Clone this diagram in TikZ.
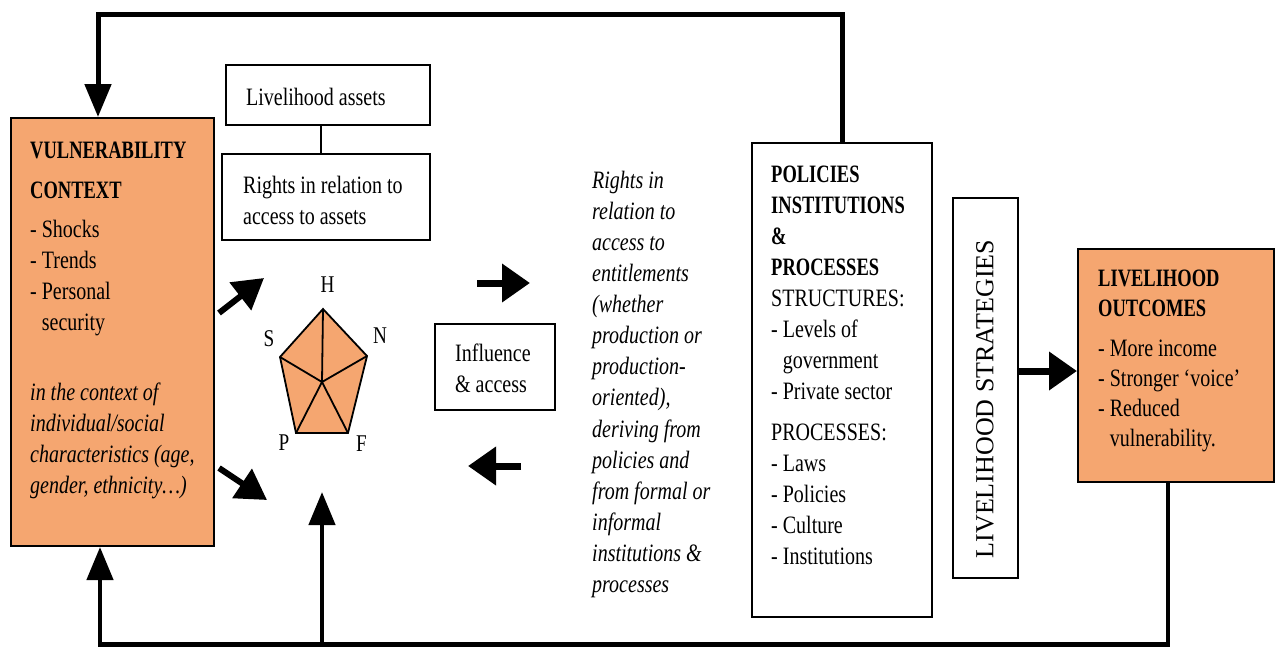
\documentclass[tikz,border=0pt]{standalone}
\usepackage{fontspec}
\setmainfont{Liberation Serif}[FakeStretch=0.8, BoldFeatures={FakeStretch=0.74}]
\newfontfamily\uprightserif{Liberation Serif}
\usetikzlibrary{arrows.meta,calc}
\definecolor{assetorange}{RGB}{245,166,112}
\begin{document}
\begin{tikzpicture}[x=1pt,y=-1pt,
  box/.style={draw=black, line width=2pt, inner sep=0pt, fill=white},
  obox/.style={box, fill=assetorange},
  txt/.style={inner sep=0pt, anchor=north west, align=left,
              font=\fontsize{25}{31}\selectfont},
  lbl/.style={inner sep=0pt, font=\fontsize{24}{28}\selectfont},
  feed/.style={line width=5pt, -{Triangle[length=33pt,width=26pt]}},
  feedup/.style={line width=4.5pt, -{Triangle[length=33pt,width=26pt]}},
  fat/.style={line width=7pt, -{Triangle[length=28pt,width=37pt]}},
  slant/.style={line width=6pt, -{Triangle[length=30pt,width=34pt]}},
 ]
\useasboundingbox (0,0) rectangle (1276,646);

% ---- boxes ----
\node[obox, minimum width=203pt, minimum height=428pt] (vc) at (112.5,332) {};
\node[box, minimum width=204pt, minimum height=60pt] (la) at (328,95) {};
\node[box, minimum width=208pt, minimum height=86pt] (ra) at (326,197) {};
\node[box, minimum width=120pt, minimum height=86pt] (inf) at (495,367) {};
\node[box, minimum width=180pt, minimum height=474pt] (pol) at (842,380) {};
\node[box, minimum width=65pt, minimum height=380pt] (ls) at (985.5,388) {};
\node[obox, minimum width=196pt, minimum height=233pt] (lo) at (1176,365.5) {};

% ---- box texts (anchored 21.7pt above the first baseline) ----
\node[txt] (vc-text) at (30,136.3) {\strut\textbf{VULNERABILITY}\\[9pt]
  \textbf{CONTEXT}\\[8pt]
  - Shocks\\
  - Trends\\
  - Personal\\
  \hphantom{- }security\\[39pt]
  \textit{in the context of}\\
  \textit{individual/social}\\
  \textit{characteristics (age,}\\
  \textit{gender, ethnicity\ldots)}};

\node[txt] (la-text) at (246,83.3) {\strut Livelihood assets};
\node[txt] (ra-text) at (243,171.3) {\strut Rights in relation to\\ access to assets};
\node[txt] (inf-text) at (455,340) {\strut Influence\\ \& access};

\node[txt, font=\fontsize{25}{31.1}\selectfont\itshape] (rights-text) at (592,166.3)
  {\strut Rights in\\ relation to\\ access to\\ entitlements\\ (whether\\
   production or\\ production-\\ oriented),\\ deriving from\\ policies and\\
   from formal or\\ informal\\ institutions \&\\ processes};

\node[txt] (pol-text) at (771,160.3) {\strut\textbf{POLICIES}\\
  \textbf{INSTITUTIONS}\\
  \textbf{\&}\\
  \textbf{PROCESSES}\\
  STRUCTURES:\\
  - Levels of\\
  \hphantom{- }government\\
  - Private sector\\[10pt]
  PROCESSES:\\
  - Laws\\
  - Policies\\
  - Culture\\
  - Institutions};

\node[inner sep=0pt, rotate=90, font=\uprightserif\fontsize{26}{30}\selectfont]
  (ls-text) at (985,399) {LIVELIHOOD STRATEGIES};

\node[txt, font=\fontsize{25}{30}\selectfont] (lo-text) at (1098,265.3)
  {\strut\textbf{LIVELIHOOD}\\
  \textbf{OUTCOMES}\\[10pt]
  - More income\\
  - Stronger ‘voice’\\
  - Reduced\\
  \hphantom{- }vulnerability.};

% ---- asset pentagon ----
\coordinate (pH) at (323,309);
\coordinate (pN) at (367,356);
\coordinate (pF) at (348,433);
\coordinate (pP) at (296,433);
\coordinate (pS) at (280,357);
\coordinate (pC) at (322,382);
\filldraw[fill=assetorange, line width=1.8pt, line join=miter]
  (pH) -- (pN) -- (pF) -- (pP) -- (pS) -- cycle;
\foreach \v in {pH,pN,pF,pP,pS}
  \draw[line width=1.8pt] (pC) -- (\v);
\node[lbl] (lH) at (327.5,285) {H};
\node[lbl] (lS) at (269,339) {S};
\node[lbl] (lN) at (380,336) {N};
\node[lbl] (lP) at (284,443) {P};
\node[lbl] (lF) at (361.5,444) {F};

% ---- connectors ----
\path ($(la.south)+(-7,0)$) coordinate (link);
\draw[line width=1.5pt] (link) -- (link |- ra.north);

% feedback from policies to vulnerability context
\coordinate (topl) at (98,14);
\draw[feed] (pol.north) |- (topl) -- (topl |- vc.north);

% feedback from outcomes along the bottom
\coordinate (botl) at (100,644.5);
\coordinate (assetin) at (322,492);
\draw[feedup] ([xshift=-8pt]lo.south) |- (botl) -- (botl |- vc.south);
\draw[feedup] (assetin |- botl) -- (assetin);

% vulnerability context acting on assets
\coordinate (upTip) at (264,278);
\coordinate (dnTip) at (267,500);
\draw[slant] ($(vc.east)+(4,-19)$) -- (upTip);
\draw[slant] ($(vc.east)+(4,136)$) -- (dnTip);

% influence and access
\coordinate (rs) at (477,283);
\coordinate (re) at (530,283);
\coordinate (ls1) at (521,466);
\coordinate (le) at (468,466);
\draw[fat] (rs) -- (re);
\draw[fat] (ls1) -- (le);

% strategies to outcomes
\draw[fat] ($(ls.east)+(0,-17)$) -- ($(lo.west)+(0,5.5)$);
\end{tikzpicture}
\end{document}
